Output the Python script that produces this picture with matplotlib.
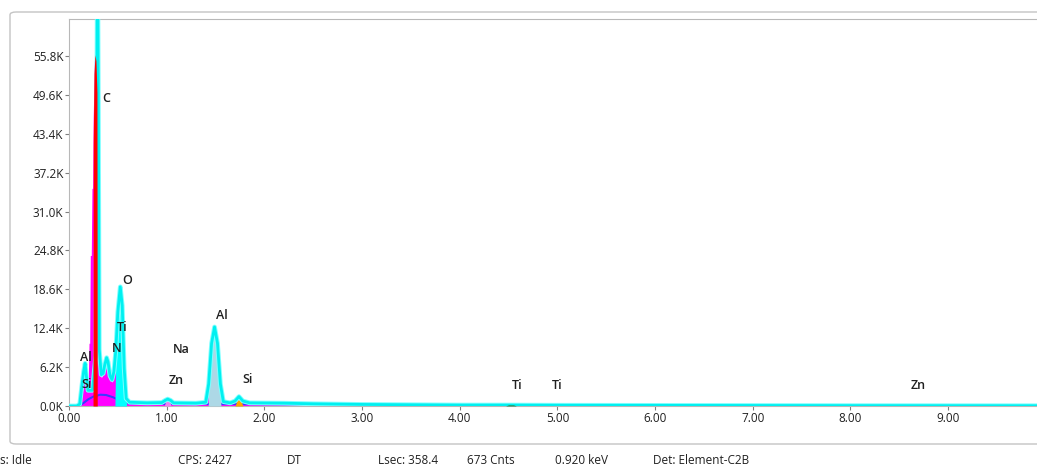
import matplotlib.pyplot as plt
from matplotlib.patches import FancyBboxPatch

plt.rcParams['font.family'] = ['Open Sans', 'DejaVu Sans']

# measured spectrum (keV, counts), magenta
meas_energy = [0.00, 0.09, 0.12, 0.14, 0.155, 0.17, 0.185, 0.198, 0.205, 0.212, 0.218, 0.228,
               0.235, 0.242, 0.248, 0.26, 0.28, 0.30, 0.31, 0.33, 0.35, 0.365, 0.385,
               0.40, 0.42, 0.44, 0.46, 0.48, 0.50, 0.525, 0.545, 0.565, 0.585, 0.62,
               0.80, 0.95, 0.985, 1.01, 1.04, 1.07, 1.30, 1.40, 1.43, 1.46, 1.49, 1.52,
               1.55, 1.58, 1.65, 1.70, 1.74, 1.78, 1.85, 2.20, 2.50, 3.00, 4.00, 5.00,
               6.00, 7.00, 8.00, 9.00, 10.00]
meas_counts = [0, 0, 800, 2500, 4000, 5000, 4000, 4500, 10000, 10000, 24000, 24000,
               34700, 34700, 46000, 55000, 56000, 30000, 8000, 4500, 5000, 6000, 7000,
               6300, 4300, 3800, 4800, 7000, 12000, 16000, 13000, 5000, 1000, 550,
               450, 500, 850, 1000, 850, 450, 420, 550, 3300, 9500, 12000, 9500,
               3300, 650, 450, 750, 1400, 750, 450, 400, 320, 230, 140, 110,
               90, 70, 55, 45, 35]

# fitted envelope (keV, counts), cyan
fit_energy = [0.00, 0.08, 0.11, 0.13, 0.15, 0.165, 0.18, 0.195, 0.24, 0.275, 0.285, 0.292,
              0.30, 0.31, 0.33, 0.35, 0.365, 0.385, 0.40, 0.42, 0.44, 0.46, 0.48,
              0.50, 0.525, 0.545, 0.565, 0.585, 0.62, 0.80, 0.95, 0.985, 1.01, 1.04,
              1.07, 1.30, 1.40, 1.43, 1.46, 1.49, 1.52, 1.55, 1.58, 1.65, 1.70, 1.74,
              1.78, 1.85, 2.20, 2.50, 3.00, 4.00, 4.50, 5.00, 6.00, 7.00, 8.00,
              9.00, 10.00]
fit_counts = [0, 0, 300, 3000, 5500, 6800, 4500, 2500, 2500, 8000, 50000, 75000,
              50000, 9000, 5000, 5200, 6500, 7700, 7000, 4800, 4200, 5500, 9000,
              15000, 19000, 16000, 6000, 1200, 600, 500, 550, 900, 1100, 900,
              500, 450, 600, 3500, 10000, 12600, 10000, 3500, 700, 500, 800, 1500,
              800, 500, 450, 350, 250, 150, 150, 120, 100, 80, 60,
              50, 40]

# background (bremsstrahlung) line
bg_energy = [0.10, 0.15, 0.20, 0.25, 0.32, 0.38, 0.45, 0.52, 0.58, 0.65, 1.00, 1.50,
             2.00, 3.00, 4.00, 6.00, 10.00]
bg_counts = [0, 500, 1100, 1500, 1800, 1750, 1400, 900, 500, 350, 330, 320,
             300, 200, 150, 100, 50]

# element peak fills
c_energy = [0.246, 0.248, 0.256, 0.266, 0.276, 0.286, 0.289]
c_counts = [0, 42000, 53000, 56000, 55000, 50000, 0]
o_energy = [0.47, 0.48, 0.50, 0.525, 0.545, 0.565, 0.585, 0.59]
o_counts = [0, 9000, 15000, 19000, 16000, 6000, 1200, 0]
al_energy = [1.425, 1.43, 1.46, 1.49, 1.52, 1.55, 1.555]
al_counts = [0, 3500, 10000, 12600, 10000, 3500, 0]
si_energy = [1.70, 1.72, 1.74, 1.76, 1.78]
si_counts = [0, 900, 1200, 900, 0]
zn_energy = [0.975, 0.99, 1.01, 1.03, 1.045]
zn_counts = [0, 800, 1000, 800, 0]
ti_energy = [4.47, 4.50, 4.55, 4.58]
ti_counts = [0, 200, 200, 0]

labels = ['C', 'O', 'Ti', 'N', 'Al', 'Si', 'Na', 'Zn', 'Al', 'Si', 'Ti', 'Ti', 'Zn']
label_e = [0.38, 0.60, 0.54, 0.49, 0.17, 0.18, 1.15, 1.10, 1.57, 1.83, 4.59, 5.00, 8.69]
label_c = [49000, 20000, 12500, 9100, 7800, 3500, 9000, 4000, 14500, 4200, 3200, 3200, 3200]

status = ['s: Idle', 'CPS: 2427', 'DT', 'Lsec: 358.4', '673 Cnts', '0.920 keV', 'Det: Element-C2B']
status_x = [0, 178, 287, 378, 467, 555, 653]

fig = plt.figure(figsize=(10.37, 4.71), dpi=100)
fig.patch.set_facecolor('white')

# panel frame
panel = FancyBboxPatch((10 / 1037, 27 / 471), 1.05, 432 / 471,
                       boxstyle='round,pad=0,rounding_size=0.006',
                       transform=fig.transFigure, facecolor='none',
                       edgecolor='#c4c4c4', linewidth=1.0, zorder=-1)
fig.patches.append(panel)

ax = fig.add_axes([69 / 1037, 65 / 471, 1 - 69 / 1037, 387 / 471])
ax.set_facecolor('white')

ax.fill_between(meas_energy, meas_counts, color='#ff00ff', lw=0, zorder=1)
ax.plot(bg_energy, bg_counts, color='#3a3aff', lw=1.5, zorder=2)
ax.fill_between(o_energy, o_counts, color='#00ffff', lw=0, zorder=3)
ax.fill_between(al_energy, al_counts, color='#add8e6', lw=0, zorder=3)
ax.fill_between(si_energy, si_counts, color='#ffa500', lw=0, zorder=3)
ax.fill_between(zn_energy, zn_counts, color='#ee82ee', lw=0, zorder=3)
ax.plot(fit_energy, fit_counts, color='#7fffff', lw=3.4, zorder=4, solid_joinstyle='round')
ax.plot(fit_energy, fit_counts, color='#00f0f0', lw=2.0, zorder=4, solid_joinstyle='round')
ax.fill_between(c_energy, c_counts, color='#ff0000', lw=0, zorder=5)
ax.fill_between(ti_energy, ti_counts, color='#2e8b57', lw=0, zorder=5)

for t, e, c in zip(labels, label_e, label_c):
    ax.text(e, c, t, ha='center', va='center', fontsize=9, color='#202020',
            fontweight='semibold', zorder=6)

ax.set_xlim(0, 9.91)
ax.set_ylim(0, 61700)
yt = [i * 6200 for i in range(10)]
ax.set_yticks(yt)
ax.set_yticklabels(['{:.1f}K'.format(v / 1000) for v in yt])
xt = list(range(10))
ax.set_xticks(xt)
ax.set_xticklabels(['{:.2f}'.format(v) for v in xt])
ax.tick_params(length=3, width=0.8, color='#808080', labelsize=8.5, labelcolor='#202020', pad=1)
for s in ['left', 'bottom', 'top']:
    ax.spines[s].set_color('#b8b8b8')
ax.spines['right'].set_visible(False)

for t, x in zip(status, status_x):
    fig.text(x / 1037, 1 - 461 / 471, t, fontsize=8.5, color='#202020', va='center', ha='left')

fig.savefig('out.png', dpi=100)
